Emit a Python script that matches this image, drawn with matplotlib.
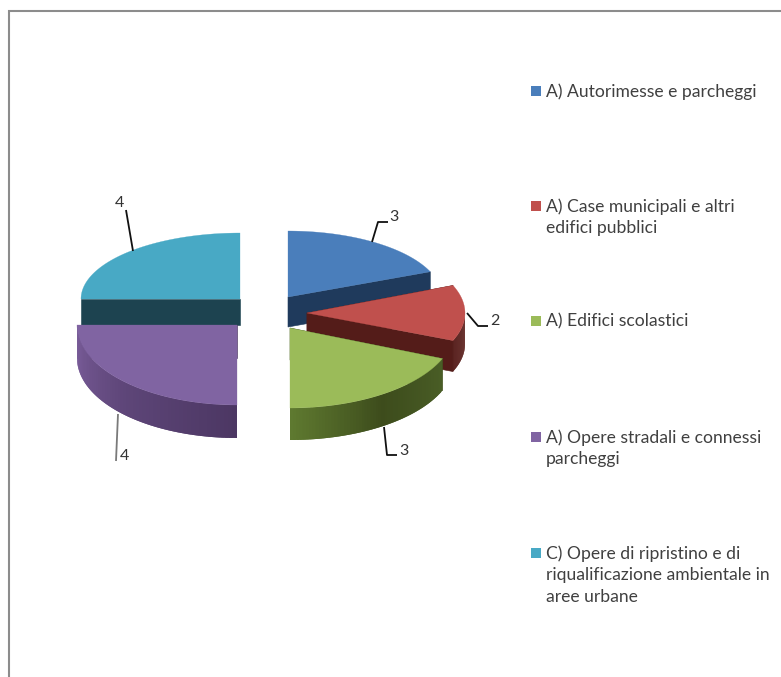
import numpy as np
import matplotlib
matplotlib.use("Agg")
import matplotlib.pyplot as plt
from matplotlib.colors import to_rgb
from matplotlib.patches import Polygon, Rectangle

# data
labels = ["A) Autorimesse e parcheggi",
          "A) Case municipali e altri\nedifici pubblici",
          "A) Edifici scolastici",
          "A) Opere stradali e connessi\nparcheggi",
          "C) Opere di ripristino e di\nriqualificazione ambientale in\naree urbane"]
values = [3, 2, 3, 4, 4]

# colours
top_colors = ["#4a7ebb", "#c0504d", "#9bbb59", "#8064a2", "#48a9c5"]
face_colors = ["#1f3a5c", "#541c19", "#3f4f1e", "#4f3a66", "#1d4350"]
rim_stops = [["#1f3a5c", "#1f3a5c"],
             ["#5e1f1c", "#541c19"],
             ["#4a5e26", "#3d4c1c", "#5f7a30"],
             ["#4c3763", "#5e4679", "#7c5f9d"],
             ["#1d4350", "#1d4350"]]

# layout in pixels of the picture
centers = [(288, 297), (307, 313), (290, 328), (237, 325), (240, 299)]
radii = [(154, 66), (158, 72), (165, 80), (160, 80), (159, 66)]
depths = [30, 31, 32, 33, 26]
draw_order = [4, 0, 1, 2, 3]
leaders = [[(372, 242), (378, 222), (388, 222)],
           [(467, 313), (478, 326), (488, 326)],
           [(384, 427), (387, 455), (397, 455)],
           [(118, 414), (116, 461)],
           [(133, 251), (126, 210)]]
value_pos = [(394, 217), (495, 321), (404, 451), (124, 456), (119, 203)]
legend_y = [91, 206, 321, 437, 553]

plt.rcParams["font.family"] = "Lato"
fig = plt.figure(figsize=(7.81, 6.77), dpi=100)
ax = fig.add_axes([0, 0, 1, 1])
ax.set_xlim(0, 781)
ax.set_ylim(677, 0)
ax.axis("off")


def rim_point(i, t):
    return (centers[i][0] + radii[i][0] * np.sin(t),
            centers[i][1] - radii[i][1] * np.cos(t))


def add_poly(pts, color, z, lw=0.4):
    ax.add_patch(Polygon(pts, closed=True, facecolor=color, edgecolor=color,
                         linewidth=lw, zorder=z))


edges = np.deg2rad(np.cumsum([0] + values) / sum(values) * 360)

for z, i in enumerate(draw_order):
    base = (z + 1) * 10
    d = depths[i]
    a0, a1 = edges[i], edges[i + 1]
    cx, cy = centers[i]

    # the two cut faces, a face seen edge on is skipped
    for a in (a0, a1):
        if abs(np.sin(a)) < 1e-6:
            continue
        x, y = rim_point(i, a)
        add_poly([(cx, cy), (x, y), (x, y + d), (cx, cy + d)], face_colors[i], base)

    # outer wall, only the front part shows
    lo, hi = max(a0, np.pi / 2), min(a1, 3 * np.pi / 2)
    if hi > lo:
        n = 60
        steps = np.linspace(lo, hi, n + 1)
        stops = np.array([to_rgb(c) for c in rim_stops[i]])
        pos = np.linspace(0, 1, len(stops))
        # each strip runs under the next one so no seams show
        for k in range(n):
            f = (k + 0.5) / n
            col = [np.interp(f, pos, stops[:, c]) for c in range(3)]
            strip = [rim_point(i, t) for t in steps[k:k + 3]]
            low = [(x, y + d) for x, y in strip[::-1]]
            add_poly(strip + low, col, base + 1, lw=0)

    # top of the slice
    arc = [rim_point(i, t) for t in np.linspace(a0, a1, 80)]
    add_poly([(cx, cy)] + arc, top_colors[i], base + 2, lw=0.2)

# leader lines and value labels
for i, line in enumerate(leaders):
    xs, ys = zip(*line)
    color = "#7a7a7a" if i == 3 else "#111111"
    ax.plot(xs, ys, color=color, lw=1.3, zorder=100, solid_capstyle="butt")
    ax.text(value_pos[i][0], value_pos[i][1], str(values[i]), fontsize=11.5,
            color="#333333", ha="center", va="center", zorder=101)

# legend
for i, lab in enumerate(labels):
    ax.add_patch(Rectangle((531, legend_y[i] - 5), 10, 10, facecolor=top_colors[i],
                           edgecolor="none", zorder=100))
    ax.text(546, legend_y[i] - 8, lab, fontsize=12.6, color="#404040", ha="left",
            va="top", linespacing=1.45, zorder=101)

# frame of the chart area, open on the right and at the bottom
ax.plot([9, 9, 781], [677, 10.5, 10.5], color="#8c8c8c", lw=1.5,
        solid_joinstyle="miter", zorder=120)

fig.savefig("out.png", dpi=100, facecolor="white")
